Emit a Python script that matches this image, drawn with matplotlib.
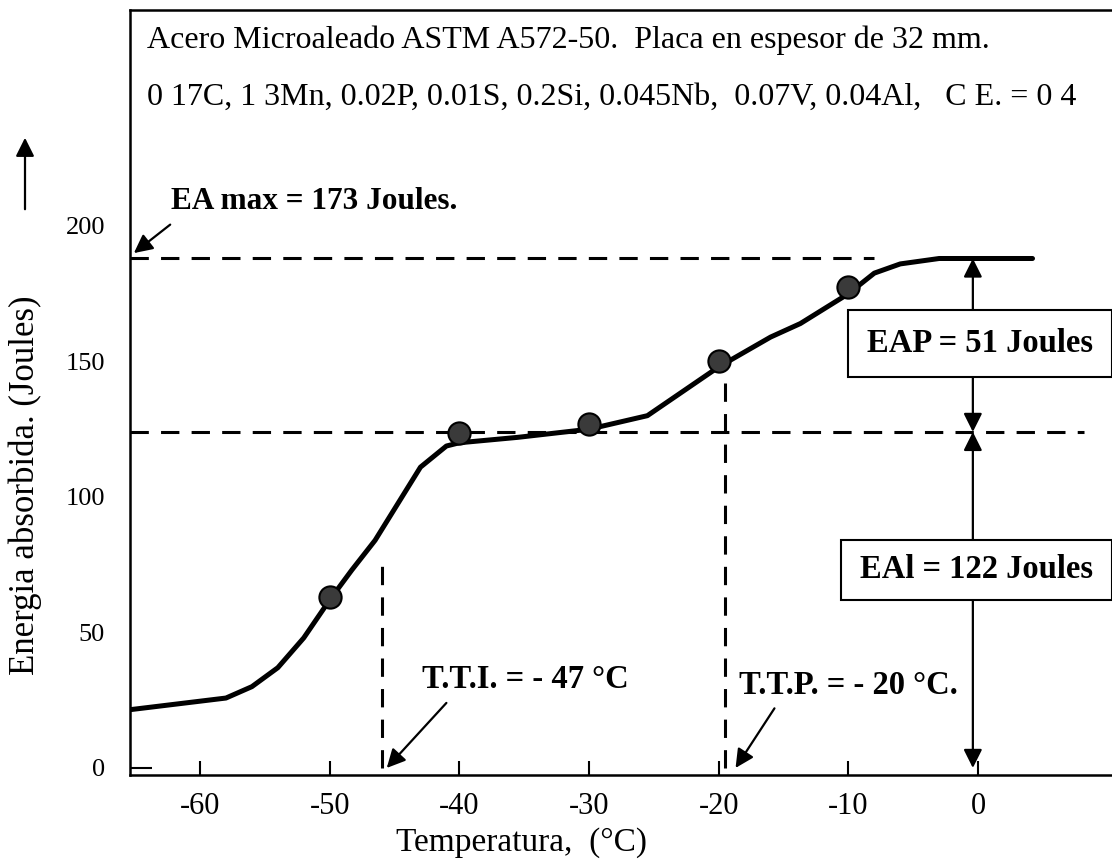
import matplotlib
matplotlib.use("Agg")
import matplotlib.pyplot as plt
from matplotlib.patches import Rectangle, FancyArrowPatch

plt.rcParams['font.family'] = ['Liberation Serif', 'DejaVu Serif']

# ---------------- data ----------------
curve_temp = [-65.4, -58, -56, -54, -52, -50, -48.3, -46.5, -43, -41, -40,
              -35.5, -30, -25.5, -20, -16, -13.7, -10, -8, -6, -3, 4.2]
curve_energy = [21.5, 25.8, 30, 37, 48, 62, 73, 84, 111, 118.8, 120,
                122, 125, 130, 148, 159, 164, 175, 182.6, 186, 188, 188]

point_temp = [-50, -40, -30, -20, -10]
point_energy = [63, 123.5, 127, 150, 177.5]

xticks = [-60, -50, -40, -30, -20, -10, 0]
yticks = [0, 50, 100, 150, 200]

ea_max_level = 188      # drawn upper-shelf level
eai_level = 124         # drawn lower level
ea_max_end = -8
eai_end = 8.2
tti_temp = -46
tti_top = 76
ttp_temp = -19.5
ttp_top = 143
arrow_temp = -0.4

title1 = "Acero Microaleado ASTM A572-50.  Placa en espesor de 32 mm."
title2 = "0 17C, 1 3Mn, 0.02P, 0.01S, 0.2Si, 0.045Nb,  0.07V, 0.04Al,   C E. = 0 4"
ea_max_text = "EA max = 173 Joules."
tti_text = "T.T.I. = - 47 °C"
ttp_text = "T.T.P. = - 20 °C."
eap_text = "EAP = 51 Joules"
eai_text = "EAl = 122 Joules"
xlabel = "Temperatura,  (°C)"
ylabel = "Energia absorbida. (Joules)"

# ---------------- figure ----------------
fig = plt.figure(figsize=(11.12, 8.64), dpi=100)
ax = fig.add_axes([130/1112, 89/864, 982/1112, 765/864])
ax.set_xlim(-65.4, 10.33)
ax.set_ylim(-2.6, 279.7)

for s in ['left', 'bottom', 'top']:
    ax.spines[s].set_linewidth(1.8)
ax.spines['right'].set_visible(False)

ax.set_xticks(xticks)
ax.set_xticklabels([str(v) for v in xticks], fontsize=22)
ax.tick_params(axis='x', direction='in', length=10, width=1.5, pad=12)
ax.set_yticks(yticks)
ax.set_yticklabels([str(v) for v in yticks], fontsize=19)
ax.tick_params(axis='y', direction='in', length=0, width=1.5, pad=18)
t0 = ax.yaxis.get_major_ticks()[0]
t0.tick1line.set_markersize(16)

dash = (0, (6, 4))
# reference dashed levels
ax.plot([curve_temp[0], ea_max_end], [ea_max_level, ea_max_level],
        color='black', lw=2.2, linestyle=dash)
ax.plot([curve_temp[0], eai_end], [eai_level, eai_level],
        color='black', lw=2.2, linestyle=dash)
ax.plot([tti_temp, tti_temp], [0, tti_top], color='black', lw=2.2, linestyle=dash)
ax.plot([ttp_temp, ttp_temp], [0, ttp_top], color='black', lw=2.2, linestyle=dash)

# curve
ax.plot(curve_temp, curve_energy, color='black', lw=3.6,
        solid_joinstyle='round', solid_capstyle='round', zorder=3)
ax.plot(point_temp, point_energy, linestyle='none', marker='o', markersize=16,
        markerfacecolor='#3a3a3a', markeredgecolor='black', markeredgewidth=1.5,
        zorder=4)

# texts
ax.text(-64.1, 268.6, title1, fontsize=23, ha='left', va='center')
ax.text(-64.1, 247.6, title2, fontsize=23, ha='left', va='center')
ax.text(-62.2, 208.9, ea_max_text, fontsize=22.5, fontweight='bold',
        ha='left', va='center')
ax.text(-42.9, 32.5, tti_text, fontsize=23.5, fontweight='bold',
        ha='left', va='center')
ax.text(-18.4, 30.6, ttp_text, fontsize=23.5, fontweight='bold',
        ha='left', va='center')

arrow_kw = dict(arrowstyle='-|>', color='black', lw=1.6, mutation_scale=28,
                shrinkA=0, shrinkB=0)
ax.annotate('', xy=(-65.1, 190), xytext=(-62.3, 200.5), arrowprops=arrow_kw)
ax.annotate('', xy=(-45.6, 0), xytext=(-41.0, 24), arrowprops=arrow_kw)
ax.annotate('', xy=(-18.7, 0), xytext=(-15.7, 22), arrowprops=arrow_kw)

# EAP / EAI boxes
eap_box = (-10.0, 144.3, 20.3, 24.7)
eai_box = (-10.6, 62.0, 20.9, 22.1)
for (bx, by, bw, bh), txt in [(eap_box, eap_text), (eai_box, eai_text)]:
    ax.add_patch(Rectangle((bx, by), bw, bh, facecolor='white',
                           edgecolor='black', lw=1.5, zorder=5, clip_on=False))
    ax.text(bx + bw/2, by + bh/2, txt, fontsize=23.5, fontweight='bold',
            ha='center', va='center', zorder=6)

ax.annotate('', xy=(arrow_temp, ea_max_level), xytext=(arrow_temp, eap_box[1] + eap_box[3]),
            arrowprops=arrow_kw)
ax.annotate('', xy=(arrow_temp, eai_level), xytext=(arrow_temp, eap_box[1]),
            arrowprops=arrow_kw)
ax.annotate('', xy=(arrow_temp, eai_level), xytext=(arrow_temp, eai_box[1] + eai_box[3]),
            arrowprops=arrow_kw)
ax.annotate('', xy=(arrow_temp, 0), xytext=(arrow_temp, eai_box[1]),
            arrowprops=arrow_kw)

# axis labels
fig.text(521/1112, 1 - 843/864, xlabel, fontsize=24, ha='center', va='center')
fig.text(25/1112, 1 - 485/864, ylabel, fontsize=25, rotation=90,
         ha='center', va='center')
fig.patches.append(FancyArrowPatch(
    (25/1112, 1 - 212/864), (25/1112, 1 - 135/864), transform=fig.transFigure,
    arrowstyle='-|>', mutation_scale=28, lw=1.6, color='black'))

fig.savefig('out.png', dpi=100)
